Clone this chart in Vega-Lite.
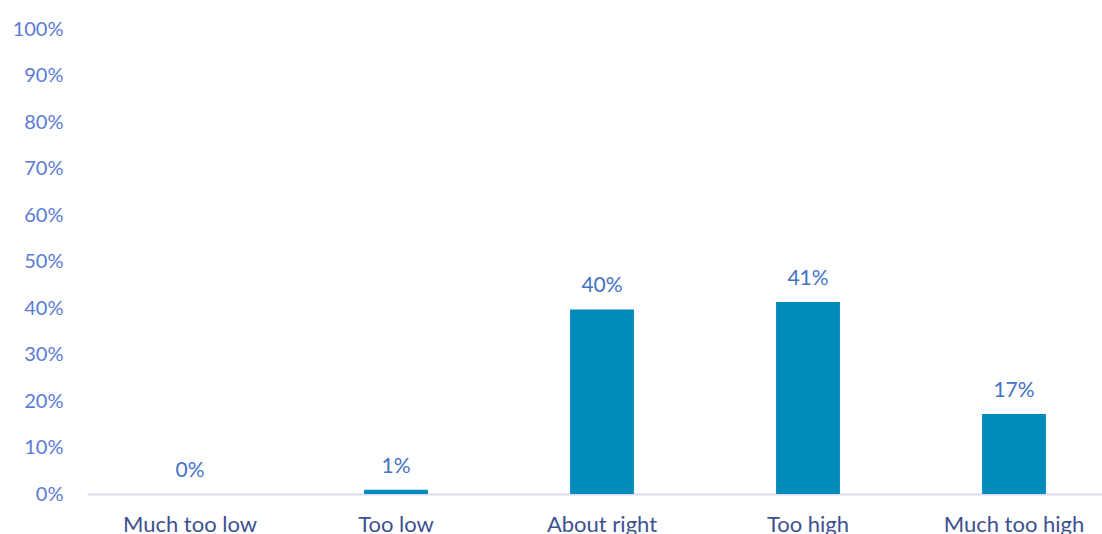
{
  "$schema": "https://vega.github.io/schema/vega-lite/v6.json",
  "autosize": {"type": "none"},
  "width": 1030,
  "height": 465,
  "padding": {"left": 87, "top": 29, "right": 0, "bottom": 40},
  "background": "white",
  "config": {"view": {"stroke": null}, "font": "Lato"},
  "data": {
    "values": [
      {"category": "Much too low", "share": 0.0},
      {"category": "Too low", "share": 0.009},
      {"category": "About right", "share": 0.397},
      {"category": "Too high", "share": 0.413},
      {"category": "Much too high", "share": 0.172}
    ]
  },
  "encoding": {
    "x": {
      "field": "category",
      "type": "nominal",
      "sort": null,
      "scale": {"paddingInner": 0.69, "paddingOuter": 0.345},
      "axis": {
        "title": null,
        "labelAngle": 0,
        "labelFont": "Lato",
        "labelFontSize": 22,
        "labelColor": "#3D5190",
        "labelPadding": 20,
        "labelOverlap": false,
        "ticks": false,
        "domainColor": "#D9DCF0",
        "domainWidth": 2,
        "labelBaseline": "top"
      }
    },
    "y": {
      "field": "share",
      "type": "quantitative",
      "scale": {"domain": [0, 1], "nice": false},
      "axis": {
        "title": null,
        "format": ".0%",
        "values": [0, 0.1, 0.2, 0.3, 0.4, 0.5, 0.6, 0.7, 0.8, 0.9, 1.0],
        "labelOverlap": false,
        "grid": false,
        "domain": false,
        "ticks": false,
        "labelFont": "Lato",
        "labelFontSize": 20,
        "labelColor": "#5B7BD5",
        "labelPadding": 24
      }
    }
  },
  "layer": [
    {"mark": {"type": "bar", "color": "#008BBA"}},
    {
      "mark": {"type": "text", "baseline": "alphabetic", "dy": -17, "fontSize": 21, "font": "Lato", "color": "#4472C4"},
      "encoding": {"text": {"field": "share", "type": "quantitative", "format": ".0%"}}
    }
  ]
}
